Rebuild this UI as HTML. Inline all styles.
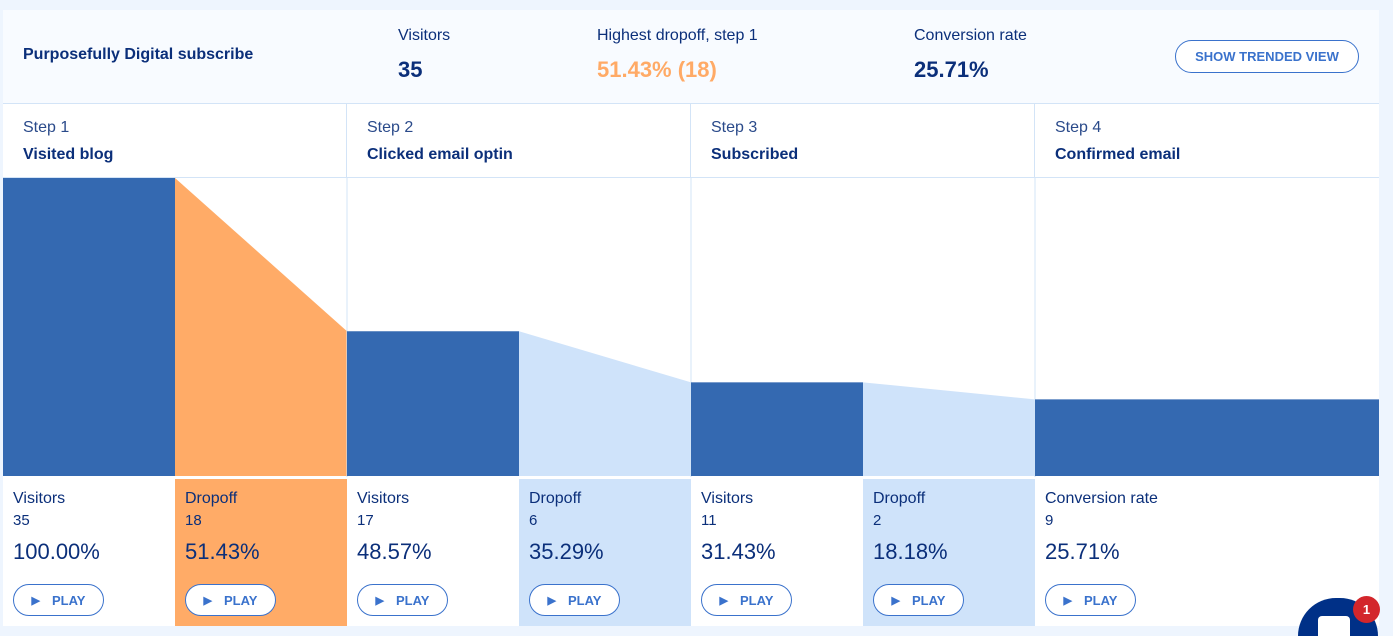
<!DOCTYPE html>
<html><head><meta charset="utf-8"><style>
html,body{margin:0;width:1393px;height:636px;overflow:hidden}
body{background:#eef5fe;font-family:"Liberation Sans",sans-serif;position:relative;color:#0b2f7a}
#wrap{position:absolute;left:0;top:0;width:1393px;height:636px;overflow:hidden}
#card{position:absolute;left:3px;top:10px;width:1376px;height:616px;background:#fff;overflow:hidden}
#hdr{position:absolute;left:0;top:0;width:1376px;height:93px;background:#f8fbff;border-bottom:1px solid #d3e4f7}
.t{position:absolute;white-space:nowrap}
.lbl{font-size:16px;color:#0b2f7a}
.big{font-size:22px;font-weight:bold}
.btn{position:absolute;border:1px solid #3a72cc;border-radius:17px;color:#3a72cc;font-weight:bold;font-size:13px;display:flex;align-items:center;justify-content:center;background:#fff;box-sizing:border-box}
.step{position:absolute;top:93px;height:75px;border-right:1px solid #d3e4f7;box-sizing:border-box;border-bottom:1px solid #d3e4f7}
.cell{position:absolute;top:467px;height:149px;box-sizing:border-box}
</style></head><body>
<div id="wrap">
<div id="card">
 <div id="hdr">
  <div class="t" style="left:20px;top:36px;font-size:16px;font-weight:bold">Purposefully Digital subscribe</div>
  <div class="t lbl" style="left:395px;top:17px">Visitors</div>
  <div class="t big" style="left:395px;top:47px">35</div>
  <div class="t lbl" style="left:594px;top:17px">Highest dropoff, step 1</div>
  <div class="t big" style="left:594px;top:47px;color:#ffaa66">51.43% (18)</div>
  <div class="t lbl" style="left:911px;top:17px">Conversion rate</div>
  <div class="t big" style="left:911px;top:47px">25.71%</div>
  <div class="btn" style="left:1172px;top:30px;width:184px;height:33px">SHOW TRENDED VIEW</div>
 </div>
 <div id="steps"></div>
 <svg id="chart" style="position:absolute;left:0;top:168px" width="1376" height="299"></svg>
 <div id="cells"></div>
</div>
<div style="position:absolute;left:1298px;top:598px;width:80px;height:38px;border-radius:40px 40px 0 0;background:#003087"><div style="position:absolute;left:20px;top:18px;width:32px;height:20px;background:#fff;border-radius:4px 4px 0 0"></div></div>
<div style="position:absolute;left:1353px;top:596px;width:27px;height:27px;border-radius:50%;background:#d3262b;color:#fff;font-size:13px;font-weight:bold;display:flex;align-items:center;justify-content:center">1</div>
</div>
<script>
const stepNames=["Visited blog","Clicked email optin","Subscribed","Confirmed email"];
const visitors=[35,17,11,9];
const dropoffs=[18,6,2];
const colW=344,half=172,H=298,top0=0;
const y=v=>top0+H-H*v/visitors[0];
const NS="http://www.w3.org/2000/svg";
const svg=document.getElementById('chart');
const steps=document.getElementById('steps');
const cells=document.getElementById('cells');
function pct(a,b){return (100*a/b).toFixed(2)+'%';}
stepNames.forEach((n,i)=>{
 const s=document.createElement('div');s.className='step';
 
 
 s.style.left=(i*colW)+'px';s.style.width=(i==3?1376-i*colW:colW)+'px';
 if(i==3)s.style.borderRight='none';
 s.innerHTML='<div class="t" style="left:20px;top:16px;font-size:16px;color:#2a4a8a">Step '+(i+1)+'</div><div class="t" style="left:20px;top:43px;font-size:16px;font-weight:bold">'+n+'</div>';
 steps.appendChild(s);
 if(i>0){const l=document.createElementNS(NS,'line');l.setAttribute('x1',i*colW);l.setAttribute('x2',i*colW);l.setAttribute('y1',0);l.setAttribute('y2',299);l.setAttribute('stroke','#d3e4f7');svg.appendChild(l);}
 const r=document.createElementNS(NS,'rect');
 
 
 const x=i*colW;r.setAttribute('x',x);r.setAttribute('y',y(visitors[i]));r.setAttribute('width',i==3?1376-x:half);r.setAttribute('height',H-y(visitors[i])+top0);r.setAttribute('fill','#3469b1');svg.appendChild(r);
 if(i<3){
  const p=document.createElementNS(NS,'polygon');
  
  
  const x0=x+half,x1=x+colW;
  p.setAttribute('points',`${x0},${y(visitors[i])} ${x1},${y(visitors[i+1])} ${x1},${H} ${x0},${H}`);
  p.setAttribute('fill',i==0?'#ffab67':'#cfe3fa');svg.appendChild(p);
 }
 const mk=(left,w,bg,lab,num,pc,nm)=>{
  const c=document.createElement('div');c.className='cell';
  
  
  c.style.left=left+'px';c.style.width=w+'px';c.style.background=bg;
  c.innerHTML='<div style="position:absolute;left:0;top:0;width:100%;height:2px;background:#fff"></div><div class="t" style="left:10px;top:13px;font-size:16px">'+lab+'</div><div class="t" style="left:10px;top:35px;font-size:15px">'+num+'</div><div class="t" style="left:10px;top:62px;font-size:22px">'+pc+'</div><div class="btn" style="left:10px;top:107px;width:91px;height:32px"><span style="font-size:11px;margin-right:12px">&#9654;</span>PLAY</div>';
  cells.appendChild(c);
 };
 if(i<3){
  mk(x,half,'#fff','Visitors',visitors[i],pct(visitors[i],visitors[0]),'visitors-cell');
  mk(x+half,half,i==0?'#ffab67':'#cfe3fa','Dropoff',dropoffs[i],pct(dropoffs[i],visitors[i]),'dropoff-cell');
 } else mk(x,1376-x,'#fff','Conversion rate',visitors[i],pct(visitors[i],visitors[0]),'conversion-cell');
});
</script>
</body></html>
